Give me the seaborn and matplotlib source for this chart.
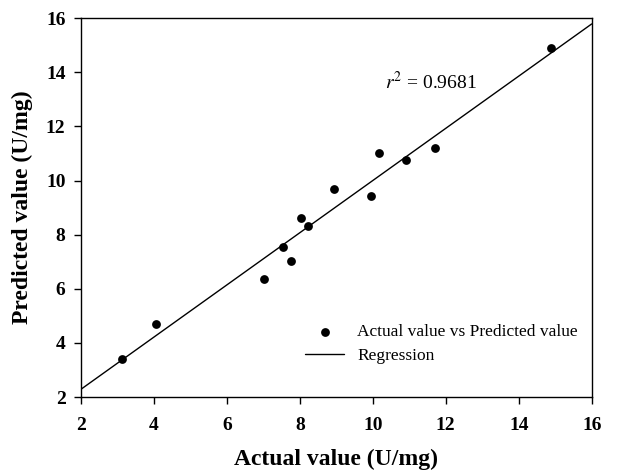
import matplotlib
matplotlib.use("Agg")
import matplotlib.pyplot as plt
import seaborn as sns
import pandas as pd
import numpy as np

actual = [3.14, 4.05, 7.01, 7.54, 7.75, 8.03, 8.22, 8.93, 9.96, 10.18, 10.91, 11.71, 14.88]
predicted = [3.40, 4.70, 6.35, 7.54, 7.04, 8.60, 8.31, 9.70, 9.43, 11.00, 10.74, 11.21, 14.90]
r2_text = "0.9681"
ticks = [2, 4, 6, 8, 10, 12, 14, 16]

df = pd.DataFrame({'actual': actual, 'predicted': predicted})

sns.set_style("ticks")
plt.rcParams['font.family'] = ['Liberation Serif', 'DejaVu Serif']
plt.rcParams['mathtext.fontset'] = 'stix'
plt.rcParams['text.color'] = 'black'
plt.rcParams['axes.labelcolor'] = 'black'

fig = plt.figure(figsize=(6.17, 4.75), dpi=100)
ax = fig.add_axes([0.131, 0.164, 0.828, 0.798])
ax.set_xlim(2, 16)
ax.set_ylim(2, 16)

# regression line across the whole axis
sns.regplot(data=df, x='actual', y='predicted', ax=ax, ci=None, truncate=False,
            scatter=False, line_kws={'color': 'black', 'lw': 1}, label='Regression')
sns.scatterplot(data=df, x='actual', y='predicted', ax=ax, color='black', s=40,
                edgecolor='black', linewidth=0, label='Actual value vs Predicted value', zorder=3)

ax.set_xlim(2, 16)
ax.set_ylim(2, 16)
ax.set_xticks(ticks)
ax.set_yticks(ticks)
ax.tick_params(direction='out', length=5, width=1, labelsize=14, colors='black', pad=6)
ax.tick_params(axis='x', pad=9)
for lab in ax.get_xticklabels() + ax.get_yticklabels():
    lab.set_fontweight('bold')
for sp in ax.spines.values():
    sp.set_color('black')
    sp.set_linewidth(1)

ax.set_xlabel('Actual value (U/mg)', fontsize=17, fontweight='bold', labelpad=11, color='black')
ax.set_ylabel('Predicted value (U/mg)', fontsize=17, fontweight='bold', labelpad=9, color='black')

ax.text(0.595, 0.83, r'$r^2$ = ' + r2_text, transform=ax.transAxes, fontsize=14,
        va='center', ha='left', color='black')

handles, labels = ax.get_legend_handles_labels()
order = [labels.index('Actual value vs Predicted value'), labels.index('Regression')]
leg = ax.legend([handles[i] for i in order], [labels[i] for i in order], loc='lower right',
                bbox_to_anchor=(1.004, 0.045), frameon=False, fontsize=12.5,
                handlelength=2.2, handletextpad=0.8, labelspacing=0.45)
for t in leg.get_texts():
    t.set_color('black')

fig.savefig('out.png', dpi=100)
